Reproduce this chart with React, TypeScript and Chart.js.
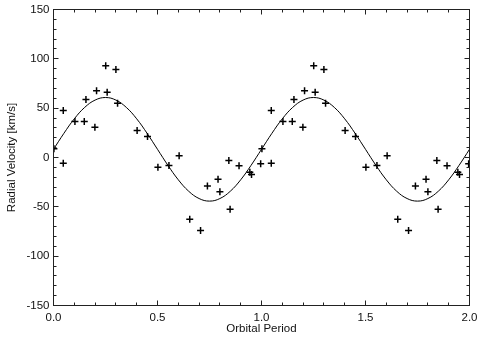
import React, { useEffect, useRef } from 'react';
import { Chart, registerables } from 'chart.js';

Chart.register(...registerables);

// Observed radial velocities, phase-folded (one orbital period)
const PHASES = [0.002, 0.047, 0.047, 0.103, 0.148, 0.156, 0.199, 0.207, 0.251, 0.258, 0.3, 0.308, 0.402, 0.452, 0.502, 0.555, 0.604, 0.655, 0.707, 0.74, 0.791, 0.8, 0.843, 0.849, 0.892, 0.944, 0.952, 0.996];
const VELOCITIES = [8.8, 47.6, -5.8, 36.5, 36.5, 58.8, 30.7, 67.6, 92.9, 66.2, 89.2, 55, 27.4, 21.3, -9.8, -8.1, 1.7, -62.5, -74, -29, -22, -34.8, -3, -52.4, -8.4, -14.9, -17.2, -6.4];

// Fitted orbit curve (one period)
const CURVE_PHASES = [0, 0.05, 0.1, 0.15, 0.2, 0.25, 0.3, 0.35, 0.4, 0.45, 0.5, 0.55, 0.6, 0.65, 0.7, 0.75, 0.8, 0.85, 0.9, 0.95, 1.0];
const CURVE_VALUES = [8.3, 24.5, 39.2, 50.8, 58.2, 60.8, 58.2, 50.8, 39.2, 24.5, 8.3, -7.9, -22.6, -34.2, -41.6, -44.2, -41.6, -34.2, -22.6, -7.9, 8.3];

const PERIODS_SHOWN = [0, 1];

const X_TICKS = [0, 0.5, 1.0, 1.5, 2.0];
const Y_TICKS = [-150, -100, -50, 0, 50, 100, 150];

const FONT = '"Liberation Sans", Arial, Helvetica, sans-serif';
const FONT_SIZE = 11.5;

const framePlugin = {
  id: 'idlFrame',
  afterDatasetsDraw(chart: any) {
    const { ctx, chartArea, scales } = chart;
    const { left, right, top, bottom } = chartArea;
    const xs = scales.x;
    const ys = scales.y;
    const snap = (v: number) => Math.round(v - 0.5) + 0.5;
    ctx.save();
    ctx.strokeStyle = '#222';
    ctx.lineWidth = 1;
    ctx.strokeRect(left, top, right - left, bottom - top);
    ctx.beginPath();
    for (let i = 0; i <= 20; i++) {
      const v = xs.min + i * 0.1;
      const major = i % 5 === 0;
      const len = major ? 5 : 3;
      const px = snap(xs.getPixelForValue(v));
      ctx.moveTo(px, bottom);
      ctx.lineTo(px, bottom - len);
      ctx.moveTo(px, top);
      ctx.lineTo(px, top + len);
    }
    for (let i = 0; i <= 30; i++) {
      const v = ys.min + i * 10;
      const major = i % 5 === 0;
      const len = major ? 5 : 3;
      const py = snap(ys.getPixelForValue(v));
      ctx.moveTo(left, py);
      ctx.lineTo(left + len, py);
      ctx.moveTo(right, py);
      ctx.lineTo(right - len, py);
    }
    ctx.stroke();
    ctx.restore();
  },
};

export default function App() {
  const ref = useRef<HTMLCanvasElement | null>(null);

  useEffect(() => {
    if (!ref.current) return;
    const points: { x: number; y: number }[] = [];
    const curve: { x: number; y: number }[] = [];
    PERIODS_SHOWN.forEach((k) => {
      PHASES.forEach((p, i) => points.push({ x: p + k, y: VELOCITIES[i] }));
      CURVE_PHASES.forEach((p, i) => {
        if (k > 0 && i === 0) return;
        curve.push({ x: p + k, y: CURVE_VALUES[i] });
      });
    });

    const chart = new Chart(ref.current, {
      type: 'scatter',
      data: {
        datasets: [
          {
            label: 'fit',
            data: curve,
            showLine: true,
            borderColor: '#000',
            borderWidth: 1,
            pointRadius: 0,
            tension: 0.4,
            fill: false,
          },
          {
            label: 'obs',
            data: points,
            showLine: false,
            pointStyle: 'cross',
            pointRadius: 3.5,
            borderColor: '#000',
            backgroundColor: '#000',
            pointBorderWidth: 1.5,
          } as any,
        ],
      },
      options: {
        responsive: false,
        animation: false,
        devicePixelRatio: 1,
        layout: { padding: { left: 0, top: 9.5, right: 7.5, bottom: 0 } },
        plugins: { legend: { display: false }, tooltip: { enabled: false } },
        scales: {
          x: {
            type: 'linear',
            min: 0,
            max: 2,
            grid: { display: false, drawTicks: false },
            border: { display: false },
            afterFit: (s: any) => { s.height = 32.5; s.paddingLeft = 0; s.paddingRight = 0; },
            afterBuildTicks: (s: any) => { s.ticks = X_TICKS.map((v) => ({ value: v })); },
            ticks: {
              padding: 5,
              color: '#111',
              font: { family: FONT, size: FONT_SIZE },
              maxRotation: 0,
              callback: (v: any) => Number(v).toFixed(1),
            },
            title: {
              display: true,
              text: 'Orbital Period',
              color: '#111',
              font: { family: FONT, size: FONT_SIZE },
              padding: { top: 0, bottom: 2.5 },
            },
          },
          y: {
            type: 'linear',
            min: -150,
            max: 150,
            grid: { display: false, drawTicks: false },
            border: { display: false },
            afterFit: (s: any) => { s.width = 53.5; s.paddingTop = 0; s.paddingBottom = 0; },
            afterBuildTicks: (s: any) => { s.ticks = Y_TICKS.map((v) => ({ value: v })); },
            ticks: {
              padding: 4,
              color: '#111',
              font: { family: FONT, size: FONT_SIZE },
              callback: (v: any) => String(v),
            },
            title: {
              display: true,
              text: 'Radial Velocity [km/s]',
              color: '#111',
              font: { family: FONT, size: FONT_SIZE },
              padding: { top: 5, bottom: 0 },
            },
          },
        },
      },
      plugins: [framePlugin],
    } as any);
    return () => chart.destroy();
  }, []);

  return (
    <div style={{ position: 'absolute', left: 0, top: 0, width: 477, height: 338, background: '#fff' }}>
      <canvas ref={ref} width={477} height={338} style={{ display: 'block' }} />
    </div>
  );
}
